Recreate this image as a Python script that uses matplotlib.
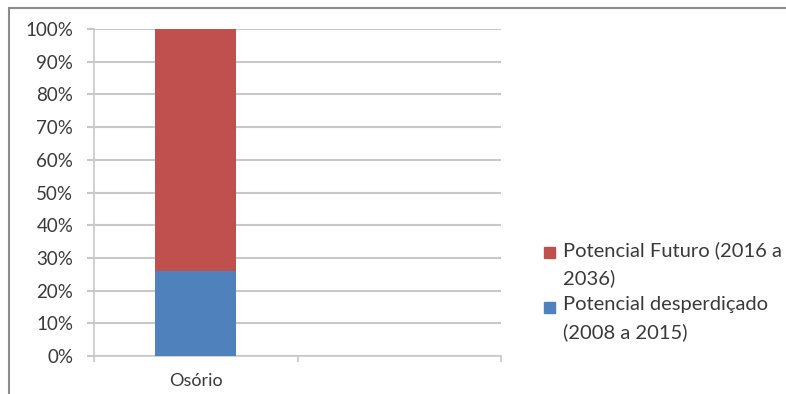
import matplotlib.pyplot as plt
from matplotlib.patches import Rectangle
from matplotlib.ticker import FuncFormatter

plt.rcParams['font.family'] = ['Lato', 'DejaVu Sans']

# data
categorias = ["Osório", ""]
potencial_desperdicado = [26, 0]   # 2008 a 2015
potencial_futuro = [74, 0]         # 2016 a 2036
y_ticks = [0, 10, 20, 30, 40, 50, 60, 70, 80, 90, 100]
legenda = ["Potencial Futuro (2016 a\n2036)", "Potencial desperdiçado\n(2008 a 2015)"]

azul = "#4F81BD"
vermelho = "#C0504D"
cinza = "#c8c8c8"
texto = "#3a3a3a"

fig = plt.figure(figsize=(7.86, 3.94), dpi=100)
ax = fig.add_axes([94/786, 1 - 356/394, (501 - 94)/786, (356 - 29)/394])

x = list(range(len(categorias)))
b1 = ax.bar(x, potencial_desperdicado, width=0.4, color=azul, zorder=3)
b2 = ax.bar(x, potencial_futuro, bottom=potencial_desperdicado, width=0.4, color=vermelho, zorder=3)

#axes
ax.set_xlim(-0.5, len(categorias) - 0.5)
ax.set_ylim(0, 100)
ax.set_yticks(y_ticks)
ax.yaxis.set_major_formatter(FuncFormatter(lambda v, p: "{:.0f}%".format(v)))
ax.set_xticks(x)
ax.set_xticklabels(categorias)
ax.set_xticks([i - 0.5 for i in range(len(categorias) + 1)], minor=True)
ax.tick_params(axis='x', which='major', length=0, pad=12, labelsize=13, colors=texto)
ax.tick_params(axis='x', which='minor', length=4, width=1.2, color=cinza)
ax.tick_params(axis='y', length=5, width=1.5, color=cinza, pad=10, labelsize=13.5, labelcolor=texto)
ax.yaxis.grid(True, color=cinza, linewidth=1.5, zorder=0)
for s in ['top', 'right']:
    ax.spines[s].set_visible(False)
for s in ['bottom', 'left']:
    ax.spines[s].set_color(cinza)
    ax.spines[s].set_linewidth(1.2)

#legend (drawn by hand so the square sits on the first line)
cores = [vermelho, azul]
topos = [252, 307]
for cor, rotulo, y in zip(cores, legenda, topos):
    fig.patches.append(Rectangle((544/786, 1 - (y + 6)/394), 11/786, 11/394,
                                 transform=fig.transFigure, color=cor))
    fig.text(563/786, 1 - (y - 11)/394, rotulo, fontsize=14.5, color=texto,
             va='top', ha='left', linespacing=1.7)

#outer border
fig.patches.append(Rectangle((9/786, -0.1), 1.2, 1 - 8/394 + 0.1, transform=fig.transFigure,
                             fill=False, edgecolor='#8c8c8c', linewidth=1.5, clip_on=False))

plt.savefig('out.png', dpi=100)
